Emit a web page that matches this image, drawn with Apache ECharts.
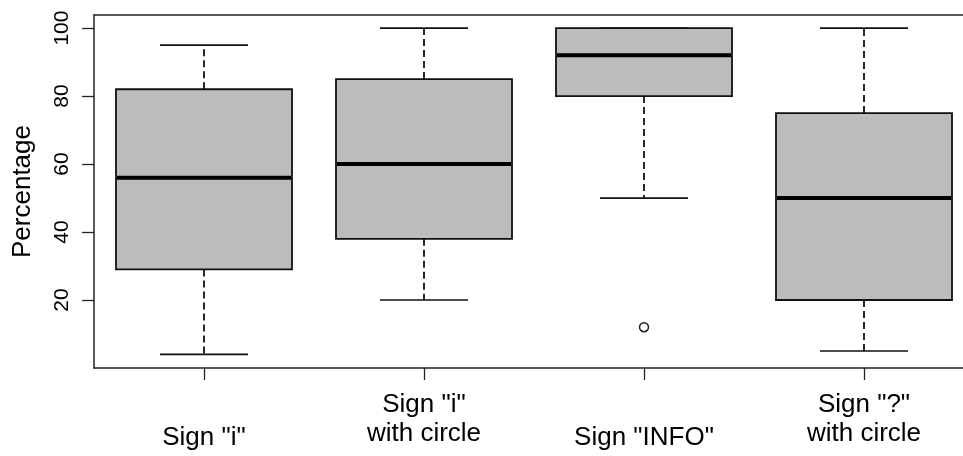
<!DOCTYPE html>
<html>
<head>
<meta charset="utf-8">
<script src="https://cdn.jsdelivr.net/npm/echarts@6/dist/echarts.min.js"></script>
<style>
  html, body { margin: 0; padding: 0; background: #fff; }
  #chart { width: 963px; height: 456px; }
</style>
</head>
<body>
<div id="chart"></div>
<script>
// ---- data ----
const categories = ['Sign "i"', 'Sign "i"\nwith circle', 'Sign "INFO"', 'Sign "?"\nwith circle'];
const lowWhisker  = [4, 20, 50, 5];
const q1Values    = [29, 38, 80, 20];
const medians     = [56, 60, 92, 50];
const q3Values    = [82, 85, 100, 75];
const highWhisker = [95, 100, 100, 100];
const outlierCategories = ['Sign "INFO"'];
const outlierValues     = [12];
const yTicks      = [20, 40, 60, 80, 100];

// categories sit at positions 1..n on the x scale (as in R's boxplot)
const xPositions = categories.map((c, i) => i + 1);
const boxData = categories.map((c, i) => [xPositions[i], lowWhisker[i], q1Values[i], medians[i], q3Values[i], highWhisker[i]]);
const outlierData = outlierCategories.map((c, k) => [xPositions[categories.indexOf(c)], outlierValues[k]]);

const FONT = '"Liberation Sans", Arial, Helvetica, sans-serif';
const INK = '#111';
const FRAME = '#222';

function renderItem(params, api) {
  const x = api.value(0);
  const lo = api.coord([x, api.value(1)]);
  const q1 = api.coord([x, api.value(2)]);
  const md = api.coord([x, api.value(3)]);
  const q3 = api.coord([x, api.value(4)]);
  const hi = api.coord([x, api.value(5)]);
  const unit = api.size([1, 0])[0];
  const bw = unit * 0.8;
  const cw = bw / 2;
  const cx = md[0];
  const dash = { stroke: INK, lineWidth: 1.8, lineDash: [7, 4] };
  const solid = { stroke: INK, lineWidth: 1.7 };
  return {
    type: 'group',
    children: [
      { type: 'line', shape: { x1: cx, y1: q3[1], x2: cx, y2: hi[1] }, style: dash },
      { type: 'line', shape: { x1: cx, y1: q1[1], x2: cx, y2: lo[1] }, style: dash },
      { type: 'line', shape: { x1: cx - cw / 2, y1: hi[1], x2: cx + cw / 2, y2: hi[1] }, style: solid },
      { type: 'line', shape: { x1: cx - cw / 2, y1: lo[1], x2: cx + cw / 2, y2: lo[1] }, style: solid },
      { type: 'rect', shape: { x: cx - bw / 2, y: q3[1], width: bw, height: q1[1] - q3[1] },
        style: { fill: '#bcbcbc', stroke: INK, lineWidth: 1.8 } },
      { type: 'line', shape: { x1: cx - bw / 2 + 1, y1: md[1], x2: cx + bw / 2 - 1, y2: md[1] },
        style: { stroke: '#000', lineWidth: 4 } }
    ]
  };
}

function labelFor(v) {
  const idx = xPositions.indexOf(v);
  if (idx < 0) return '';
  const parts = categories[idx].split('\n');
  if (parts.length === 1) return '{a| }\n{b|' + parts[0] + '}';
  return parts.map(p => '{b|' + p + '}').join('\n');
}

const chart = echarts.init(document.getElementById('chart'), null, { renderer: 'canvas' });
chart.setOption({
  animation: false,
  backgroundColor: '#fff',
  grid: { left: 94, top: 15, right: 0, bottom: 88, show: false },
  xAxis: [
    {
      type: 'value',
      min: 0.5,
      max: 4.45,
      axisLine: { show: true, onZero: false, lineStyle: { color: FRAME, width: 1.5 } },
      axisTick: { show: true, length: 12, customValues: xPositions, lineStyle: { color: FRAME, width: 1.3 } },
      axisLabel: {
        customValues: xPositions,
        margin: 22,
        color: '#000',
        fontFamily: FONT,
        fontSize: 26,
        formatter: labelFor,
        rich: {
          a: { fontSize: 26, lineHeight: 33, fontFamily: FONT },
          b: { fontSize: 26, lineHeight: 29, fontFamily: FONT, color: '#000' }
        }
      },
      splitLine: { show: false }
    },
    {
      type: 'value',
      position: 'top',
      min: 0.5,
      max: 4.45,
      axisLine: { show: true, onZero: false, lineStyle: { color: FRAME, width: 1.5 } },
      axisTick: { show: false },
      axisLabel: { show: false },
      splitLine: { show: false }
    }
  ],
  yAxis: {
    type: 'value',
    min: 0,
    max: 103.84,
    interval: 20,
    name: 'Percentage',
    nameLocation: 'middle',
    nameGap: 58,
    nameTextStyle: { fontFamily: FONT, fontSize: 26, color: '#000' },
    axisLine: { show: true, onZero: false, lineStyle: { color: FRAME, width: 1.5 } },
    axisTick: { show: true, length: 12, customValues: yTicks, lineStyle: { color: FRAME, width: 1.3 } },
    axisLabel: {
      rotate: 90,
      margin: 21,
      color: '#000',
      fontFamily: FONT,
      fontSize: 21,
      customValues: yTicks,
      formatter: v => (v === 0 ? '' : String(v))
    },
    splitLine: { show: false }
  },
  series: [
    {
      type: 'custom',
      renderItem: renderItem,
      data: boxData,
      encode: { x: 0, y: [1, 2, 3, 4, 5] },
      clip: false,
      z: 2
    },
    {
      type: 'scatter',
      data: outlierData,
      symbol: 'circle',
      symbolSize: 9,
      itemStyle: { color: '#fff', borderColor: '#222', borderWidth: 1.5, opacity: 1 },
      z: 3
    }
  ]
});
</script>
</body>
</html>
